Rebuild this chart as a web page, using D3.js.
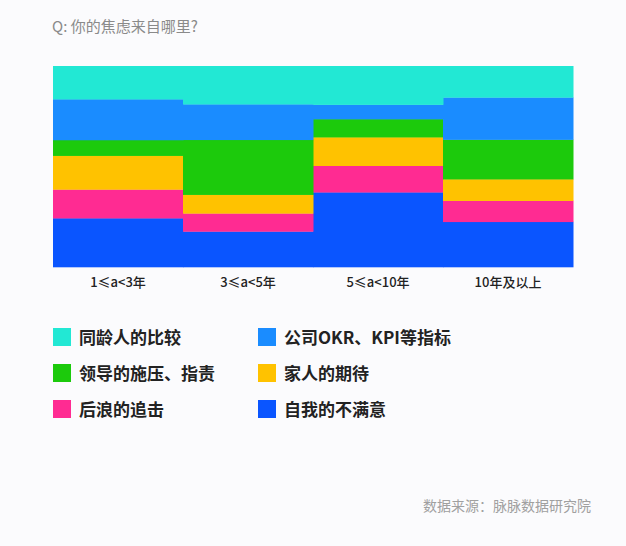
<!DOCTYPE html>
<html lang="zh">
<head>
  <meta charset="UTF-8" />
  <script src="https://d3js.org/d3.v7.min.js"></script>
  <title>你的焦虑来自哪里</title>
  <style>
    body { margin: 0; background: #fbfbfd; }
    svg { display: block; font-family: "Noto Sans CJK SC", "Noto Sans", sans-serif; }
  </style>
</head>
<body>
  <svg width="626" height="546"></svg>
  <script>
    // categories (working years)
    const categories = ["1≤a<3年", "3≤a<5年", "5≤a<10年", "10年及以上"];

    // series, bottom to top, in percent
    const seriesNames = ["自我的不满意", "后浪的追击", "家人的期待", "领导的施压、指责", "公司OKR、KPI等指标", "同龄人的比较"];
    const selfValues   = [24.3, 17.7, 37.2, 22.5];
    const chaseValues  = [14.3, 9.0, 13.2, 10.5];
    const familyValues = [16.8, 9.3, 14.2, 10.7];
    const bossValues   = [7.8, 27.3, 9.0, 19.7];
    const okrValues    = [20.3, 17.7, 7.2, 21.0];
    const peerValues   = [16.5, 19.0, 19.2, 15.6];
    const colors = ["#0a55ff", "#ff2b92", "#ffc200", "#1cca0c", "#1a8cff", "#22e8d4"];

    // legend order as in the picture
    const legendOrder = ["同龄人的比较", "公司OKR、KPI等指标", "领导的施压、指责", "家人的期待", "后浪的追击", "自我的不满意"];

    const allValues = [selfValues, chaseValues, familyValues, bossValues, okrValues, peerValues];
    const table = categories.map((c, i) => {
      const row = { category: c };
      seriesNames.forEach((s, j) => row[s] = allValues[j][i]);
      return row;
    });

    const svg = d3.select("svg");
    const margin = { top: 66, left: 53 };
    const width = 520, height = 201;

    svg.append("text")
      .attr("x", 52).attr("y", 32)
      .attr("font-size", 15).attr("fill", "#8a8a8a")
      .text("Q: 你的焦虑来自哪里?");

    const x = d3.scaleBand().domain(categories).range([0, width]).padding(0);
    const y = d3.scaleLinear().domain([0, 100]).range([height, 0]);

    const stacked = d3.stack().keys(seriesNames)(table);

    const chart = svg.append("g")
      .attr("transform", `translate(${margin.left},${margin.top})`);

    chart.selectAll("g.layer")
      .data(stacked)
      .join("g")
      .attr("class", "layer")
      .attr("fill", (d, i) => colors[i])
      .selectAll("rect")
      .data(d => d)
      .join("rect")
      .attr("x", d => x(d.data.category))
      .attr("y", d => y(d[1]))
      .attr("width", x.bandwidth() + 0.5)
      .attr("height", d => y(d[0]) - y(d[1]) + 0.3);

    const axis = chart.append("g")
      .attr("transform", `translate(0,${height})`)
      .call(d3.axisBottom(x).tickSize(0).tickPadding(11));
    axis.select(".domain").remove();
    axis.selectAll("text")
      .attr("font-size", 13)
      .attr("fill", "#222")
      .attr("font-weight", 500)
      .attr("font-family", "'Noto Sans CJK SC', sans-serif");

    // legend
    const legend = svg.append("g");
    const legendItems = legend.selectAll("g")
      .data(legendOrder)
      .join("g")
      .attr("transform", (d, i) => {
        const col = i % 2, row = Math.floor(i / 2);
        return `translate(${53 + col * 205},${328 + row * 36})`;
      });
    legendItems.append("rect")
      .attr("width", 18).attr("height", 18)
      .attr("fill", d => colors[seriesNames.indexOf(d)]);
    legendItems.append("text")
      .attr("x", 26).attr("y", 15.5)
      .attr("font-size", 17).attr("font-weight", 700).attr("fill", "#222")
      .text(d => d);

    svg.append("text")
      .attr("x", 591).attr("y", 511)
      .attr("text-anchor", "end")
      .attr("font-size", 14).attr("fill", "#a0a0a0")
      .text("数据来源：脉脉数据研究院");
  </script>
</body>
</html>
